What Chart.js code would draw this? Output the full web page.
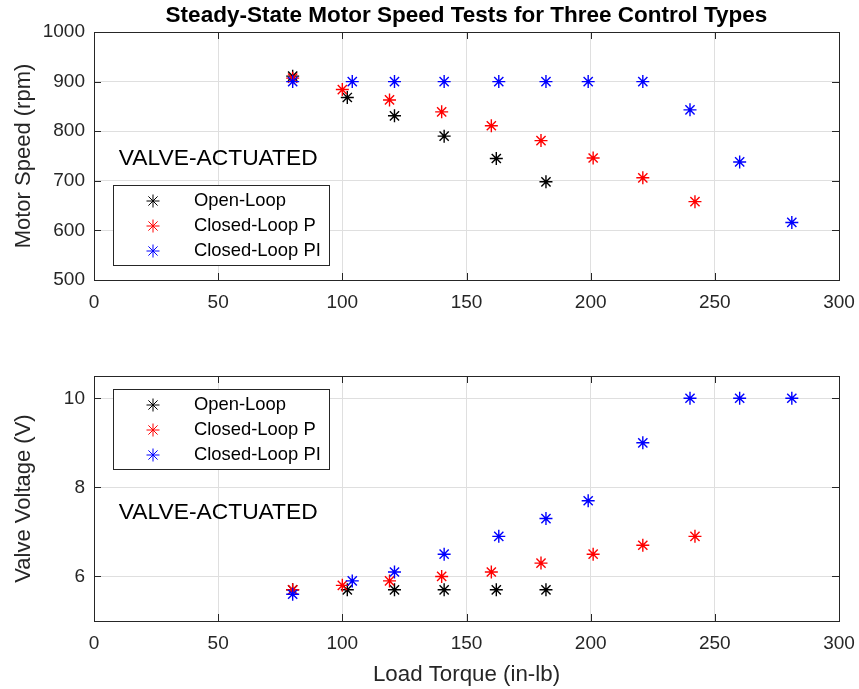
<!DOCTYPE html>
<html>
<head>
<meta charset="utf-8">
<script src="https://cdn.jsdelivr.net/npm/chart.js@4.4.0/dist/chart.umd.min.js"></script>
<style>
  html, body { margin: 0; padding: 0; background: #fff; }
  #wrap { position: relative; width: 859px; height: 689px; }
  #top { position: absolute; left: 0; top: 0; }
  #bot { position: absolute; left: 0; top: 330px; }
</style>
</head>
<body>
<div id="wrap">
  <canvas id="top" width="859" height="330"></canvas>
  <canvas id="bot" width="859" height="359"></canvas>
</div>
<script>
// --- data ---
const openTorque = [80, 102, 121, 141, 162, 182];
const openSpeed  = [911, 868, 831, 790, 745, 698];
const openVolt   = [5.7, 5.7, 5.7, 5.7, 5.7, 5.7];

const pTorque = [80, 100, 119, 140, 160, 180, 201, 221, 242];
const pSpeed  = [907, 884, 863, 839, 811, 781, 746, 706, 658];
const pVolt   = [5.7, 5.8, 5.9, 6.0, 6.1, 6.3, 6.5, 6.7, 6.9];

const piTorque = [80, 104, 121, 141, 163, 182, 199, 221, 240, 260, 281];
const piSpeed  = [900, 900, 900, 900, 900, 900, 900, 900, 843, 738, 616];
const piVolt   = [5.6, 5.9, 6.1, 6.5, 6.9, 7.3, 7.7, 9.0, 10, 10, 10];

const seriesNames = ["Open-Loop", "Closed-Loop P", "Closed-Loop PI"];
const xTicks = [0, 50, 100, 150, 200, 250, 300];
const speedTicks = [500, 600, 700, 800, 900, 1000];
const voltTicks = [6, 8, 10];

const FONT = "'Liberation Sans', Arial, Helvetica, sans-serif";
const INK = "#262626";
const GRID = "#dfdfdf";
const COLORS = ["#000000", "#ff0000", "#0000ff"];

Chart.defaults.font.family = FONT;
Chart.defaults.color = INK;

const zip = (xs, ys) => xs.map((v, i) => ({ x: v, y: ys[i] }));

function makeSets(ys) {
  const xs = [openTorque, pTorque, piTorque];
  return ys.map((yv, i) => ({
    label: seriesNames[i],
    data: zip(xs[i], yv),
    pointStyle: "star",
    pointRadius: 6.5,
    pointBorderWidth: 1.4,
    borderColor: COLORS[i],
    backgroundColor: COLORS[i],
    order: 3 - i,
  }));
}

// MATLAB-ish box, inward ticks, legend, text label
function axesDeco(opts) {
  return {
    id: "axesDeco",
    afterDraw(chart) {
      const { ctx, chartArea: a, scales: { x, y } } = chart;
      ctx.save();
      ctx.strokeStyle = INK;
      ctx.lineWidth = 1;
      ctx.strokeRect(a.left + 0.5, a.top + 0.5, a.right - a.left, a.bottom - a.top);
      ctx.beginPath();
      x.ticks.forEach(t => {
        const px = Math.round(x.getPixelForValue(t.value)) + 0.5;
        ctx.moveTo(px, a.bottom); ctx.lineTo(px, a.bottom - 7);
        ctx.moveTo(px, a.top); ctx.lineTo(px, a.top + 7);
      });
      y.ticks.forEach(t => {
        const py = Math.round(y.getPixelForValue(t.value)) + 0.5;
        ctx.moveTo(a.left, py); ctx.lineTo(a.left + 7, py);
        ctx.moveTo(a.right, py); ctx.lineTo(a.right - 7, py);
      });
      ctx.stroke();

      // annotation
      ctx.fillStyle = "#000";
      ctx.font = "22.8px " + FONT;
      ctx.textBaseline = "middle";
      ctx.textAlign = "left";
      ctx.fillText("VALVE-ACTUATED", x.getPixelForValue(10), y.getPixelForValue(opts.noteY));

      // legend
      const lx = a.left + 19, ly = opts.legendTop(a), lw = 216, lh = 80;
      ctx.fillStyle = "#fff";
      ctx.fillRect(lx, ly, lw, lh);
      ctx.strokeStyle = INK;
      ctx.strokeRect(lx + 0.5, ly + 0.5, lw, lh);
      ctx.font = "18.4px " + FONT;
      seriesNames.forEach((name, i) => {
        const ry = ly + 16 + i * 25;
        ctx.strokeStyle = COLORS[i];
        ctx.fillStyle = COLORS[i];
        Chart.helpers.drawPoint(ctx, { pointStyle: "star", radius: 6.5, borderWidth: 1.4 }, lx + 40, ry);
        ctx.fillStyle = "#000";
        ctx.fillText(name, lx + 81, ry);
      });

      if (opts.title) {
        ctx.fillStyle = "#000";
        ctx.font = "bold 22.5px " + FONT;
        ctx.textAlign = "center";
        ctx.fillText(opts.title, (a.left + a.right) / 2, 16);
      }
      ctx.restore();
    }
  };
}

const plainTick = v => String(v);

function xScale(height, title) {
  return {
    type: "linear", min: 0, max: 300,
    afterBuildTicks: s => { s.ticks = xTicks.map(v => ({ value: v })); },
    afterFit: s => { s.height = height; s.paddingLeft = 0; s.paddingRight = 0; },
    grid: { color: GRID, drawTicks: false },
    border: { display: false },
    ticks: { color: INK, font: { size: 19 }, padding: 11, callback: plainTick },
    title: title ? { display: true, text: title, color: INK, font: { size: 22.3, lineHeight: 1.2 }, padding: { top: 0, bottom: 1 } } : { display: false },
  };
}

function yScale(min, max, ticks, title) {
  return {
    type: "linear", min, max,
    afterBuildTicks: s => { s.ticks = ticks.map(v => ({ value: v })); },
    afterFit: s => { s.width = 94; s.paddingTop = 0; s.paddingBottom = 0; },
    grid: { color: GRID, drawTicks: false },
    border: { display: false },
    ticks: { color: INK, font: { size: 19 }, padding: 9, callback: plainTick },
    title: { display: true, text: title, color: INK, font: { size: 22, lineHeight: 1.2 }, padding: { top: 11, bottom: 0 } },
  };
}

const common = {
  responsive: false,
  animation: false,
  events: [],
  plugins: { legend: { display: false }, tooltip: { enabled: false } },
};

new Chart(document.getElementById("top"), {
  type: "scatter",
  data: { datasets: makeSets([openSpeed, pSpeed, piSpeed]) },
  options: {
    ...common,
    layout: { padding: { top: 32, right: 20, left: 0, bottom: 0 } },
    scales: {
      x: xScale(50, null),
      y: yScale(500, 1000, speedTicks, "Motor Speed (rpm)"),
    },
  },
  plugins: [axesDeco({ noteY: 745, legendTop: a => a.bottom - 95, title: "Steady-State Motor Speed Tests for Three Control Types" })],
});

new Chart(document.getElementById("bot"), {
  type: "scatter",
  data: { datasets: makeSets([openVolt, pVolt, piVolt]) },
  options: {
    ...common,
    layout: { padding: { top: 46, right: 20, left: 0, bottom: 0 } },
    scales: {
      x: xScale(68, "Load Torque (in-lb)"),
      y: yScale(5, 10.5, voltTicks, "Valve Voltage (V)"),
    },
  },
  plugins: [axesDeco({ noteY: 7.43, legendTop: a => a.top + 13 })],
});
</script>
</body>
</html>
